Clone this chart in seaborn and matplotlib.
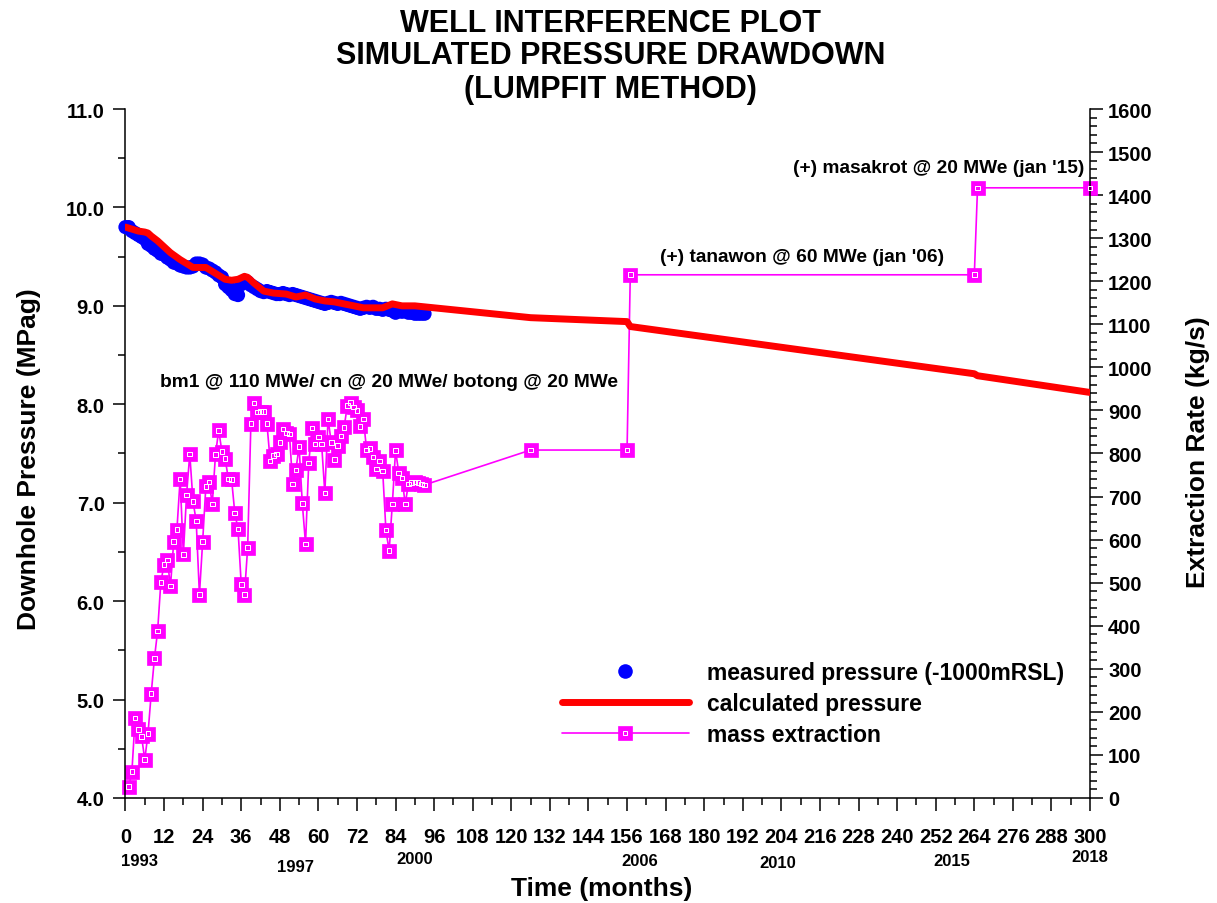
import matplotlib
matplotlib.use("Agg")
import matplotlib.pyplot as plt
import seaborn as sns
import numpy as np
import pandas as pd
from matplotlib.ticker import MultipleLocator, FormatStrFormatter
from matplotlib.lines import Line2D
from matplotlib.legend_handler import HandlerTuple
import matplotlib.transforms as mtransforms

# ---------------- data ----------------
meas_month = list(range(0, 87)) + [88, 89, 90, 91, 92, 93]
meas_press = [9.80, 9.80, 9.76, 9.74, 9.72, 9.70, 9.68, 9.63, 9.61, 9.58,
              9.56, 9.53, 9.52, 9.49, 9.47, 9.44, 9.43, 9.41, 9.40, 9.39,
              9.39, 9.40, 9.43, 9.43, 9.42, 9.39, 9.38, 9.36, 9.34, 9.31,
              9.29, 9.22, 9.19, 9.16, 9.12, 9.11, 9.22, 9.25, 9.24, 9.21,
              9.19, 9.17, 9.15, 9.14, 9.15, 9.14, 9.13, 9.12, 9.12, 9.13,
              9.12, 9.11, 9.12, 9.11, 9.10, 9.09, 9.08, 9.07, 9.06, 9.05,
              9.04, 9.03, 9.02, 9.03, 9.04, 9.03, 9.02, 9.03, 9.02, 9.01,
              9.00, 8.99, 8.98, 8.97, 8.98, 8.99, 8.98, 8.99, 8.97, 8.97,
              8.96, 8.97, 8.96, 8.95, 8.93, 8.95, 8.94,
              8.93, 8.93, 8.92, 8.92, 8.92, 8.92]

calc_month = [0, 2, 4, 6, 7, 8, 10, 12, 14, 17, 19, 21, 23, 25, 27, 29, 31, 33,
              35, 37, 38, 40, 43, 46, 50, 53, 56, 59, 62, 65, 68, 71, 74, 80,
              83, 86, 90, 96, 126, 156, 157, 264, 265, 300]
calc_press = [9.80, 9.78, 9.76, 9.75, 9.74, 9.71, 9.66, 9.60, 9.54, 9.47,
              9.43, 9.39, 9.39, 9.39, 9.35, 9.31, 9.27, 9.26, 9.27, 9.30,
              9.29, 9.23, 9.15, 9.13, 9.12, 9.09, 9.11, 9.07, 9.05, 9.04,
              9.02, 9.00, 8.98, 8.98, 9.02, 9.00, 9.00, 8.98, 8.88, 8.84,
              8.79, 8.31, 8.29, 8.12]

ext_month = list(range(1, 94)) + [126, 156, 157, 264, 265, 300]
ext_rate = [26, 61, 186, 159, 143, 89, 149, 242, 324, 388,
            501, 542, 553, 492, 595, 623, 741, 566, 704, 799,
            689, 643, 472, 595, 724, 734, 683, 798, 854, 804,
            788, 741, 740, 662, 625, 496, 472, 581, 869, 917,
            896, 897, 897, 869, 783, 795, 799, 826, 857, 848,
            845, 729, 762, 816, 684, 590, 778, 859, 822, 838,
            822, 708, 880, 826, 786, 818, 841, 861, 911, 918,
            908, 900, 863, 880, 808, 812, 792, 764, 783, 759,
            622, 574, 683, 807, 755, 743, 683, 729, 732, 734,
            732, 729, 727,
            808, 808, 1215, 1215, 1417, 1417]

xtick_values = list(range(0, 301, 12))
year_labels = ["1993", "1997", "2000", "2006", "2010", "2015", "2018"]
year_months = [4.3, 53, 90, 160, 203, 257, 300]

title_lines = ["WELL INTERFERENCE PLOT", "SIMULATED PRESSURE DRAWDOWN", "(LUMPFIT METHOD)"]

meas_df = pd.DataFrame({"month": meas_month, "pressure": meas_press})
calc_df = pd.DataFrame({"month": calc_month, "pressure": calc_press})
ext_df = pd.DataFrame({"month": ext_month, "rate": ext_rate})

# ---------------- style ----------------
sns.set_theme(style="ticks")
plt.rcParams["font.family"] = ["Liberation Sans", "DejaVu Sans"]
plt.rcParams["font.weight"] = "bold"
plt.rcParams["axes.labelweight"] = "bold"
for k in ["text.color", "axes.labelcolor", "xtick.color", "ytick.color", "axes.edgecolor"]:
    plt.rcParams[k] = "black"

BLUE = "#0000ff"
RED = "#ff0000"
MAG = "#ff00ff"

fig = plt.figure(figsize=(12.17, 9.04), dpi=100)
ax = fig.add_axes([0.1031, 0.1162, 0.7926, 0.7621])
ax2 = ax.twinx()

# measured pressure
sns.scatterplot(data=meas_df, x="month", y="pressure", ax=ax, color=BLUE,
                s=105, edgecolor="none", linewidth=0, legend=False,
                clip_on=False, zorder=3)
# calculated pressure
sns.lineplot(data=calc_df, x="month", y="pressure", ax=ax, color=RED,
             lw=5, estimator=None, sort=False, legend=False, zorder=4,
             solid_capstyle="round", solid_joinstyle="round")

# mass extraction
sns.lineplot(data=ext_df, x="month", y="rate", ax=ax2, color=MAG, lw=1.2,
             marker="s", markersize=9.5, markerfacecolor=MAG,
             markeredgecolor=MAG, markeredgewidth=0.5,
             estimator=None, sort=False, legend=False, clip_on=False)
sns.scatterplot(data=ext_df, x="month", y="rate", ax=ax2, marker="s",
                s=11, facecolor="none", edgecolor="white", linewidth=0.7,
                legend=False, clip_on=False, zorder=5)

# ---------------- axes ----------------
ax.set_xlim(0, 300)
ax.set_ylim(4.0, 11.0)
ax2.set_ylim(0, 1600)
ax.set_xticks(xtick_values)
ax.xaxis.set_minor_locator(MultipleLocator(6))
ax.yaxis.set_major_locator(MultipleLocator(1.0))
ax.yaxis.set_minor_locator(MultipleLocator(0.5))
ax.yaxis.set_major_formatter(FormatStrFormatter("%.1f"))
ax2.yaxis.set_major_locator(MultipleLocator(100))
ax2.yaxis.set_minor_locator(MultipleLocator(20))

for a in (ax, ax2):
    a.spines["top"].set_visible(False)
    for s in a.spines.values():
        s.set_linewidth(1.1)
        s.set_color("black")
ax.spines["right"].set_visible(False)
ax2.spines["left"].set_visible(False)
ax2.spines["bottom"].set_visible(False)

TL = 14.5
ax.tick_params(axis="x", which="major", length=9, width=1.1, pad=12, labelsize=TL)
ax.tick_params(axis="x", which="minor", length=5, width=1.1)
ax.tick_params(axis="y", which="major", length=9, width=1.1, pad=6, labelsize=TL)
ax.tick_params(axis="y", which="minor", length=5, width=1.1)
ax2.tick_params(axis="y", which="major", length=9, width=1.1, pad=4, labelsize=TL)
ax2.tick_params(axis="y", which="minor", length=5, width=1.1)
for lab in ax.get_xticklabels() + ax.get_yticklabels() + ax2.get_yticklabels():
    lab.set_fontweight("bold")

ax.set_xlabel("Time (months)", fontsize=19, fontweight="bold", va="center")
ax.xaxis.set_label_coords(0.494, -0.131)
ax.set_ylabel("Downhole Pressure (MPag)", fontsize=19, fontweight="bold", va="center")
ax.yaxis.set_label_coords(-0.100, 0.493)
ax2.set_ylabel("Extraction Rate (kg/s)", fontsize=19, fontweight="bold", va="center")
ax2.yaxis.set_label_coords(1.112, 0.503)

# year labels under the month ticks
trans = mtransforms.blended_transform_factory(ax.transData, ax.transAxes)
year_y = [-0.0915, -0.1, -0.0886, -0.0915, -0.0944, -0.0915, -0.0857]
for yr, m, yy in zip(year_labels, year_months, year_y):
    ax.text(m, yy, yr, transform=trans, ha="center", va="center",
            fontsize=12, fontweight="bold", clip_on=False)

# annotations
ANN = 13.8
ax.text(10.7, 8.23, "bm1 @ 110 MWe/ cn @ 20 MWe/ botong @ 20 MWe",
        ha="left", va="center", fontsize=ANN, fontweight="bold")
ax.text(210.5, 9.50, "(+) tanawon @ 60 MWe (jan '06)",
        ha="center", va="center", fontsize=ANN, fontweight="bold")
ax.text(253.0, 10.41, "(+) masakrot @ 20 MWe (jan '15)",
        ha="center", va="center", fontsize=ANN, fontweight="bold")

# title
for txt, yy in zip(title_lines, [0.9735, 0.938, 0.9005]):
    fig.text(0.5015, yy, txt, ha="center", va="center", fontsize=22,
             fontweight="bold")

# legend
h_meas = Line2D([], [], ls="none", marker="o", ms=10.5, color=BLUE, mec="none")
h_calc = Line2D([], [], color=RED, lw=5, solid_capstyle="round")
h_ext1 = Line2D([], [], color=MAG, lw=1.2, marker="s", ms=9.5, mfc=MAG, mec=MAG, mew=0.5)
h_ext2 = Line2D([], [], ls="none", marker="s", ms=3.3, mfc="none", mec="white", mew=0.7)
leg = ax.legend([h_meas, h_calc, (h_ext1, h_ext2)],
                ["measured pressure (-1000mRSL)", "calculated pressure", "mass extraction"],
                handler_map={tuple: HandlerTuple(ndivide=1)},
                loc="upper left", bbox_to_anchor=(0.4523, 0.199),
                frameon=False, borderpad=0, borderaxespad=0,
                handlelength=5.55, handletextpad=0.8, labelspacing=0.36,
                prop={"size": 16.5, "weight": "bold"})
ax.set_zorder(ax2.get_zorder() + 1)
ax.patch.set_visible(False)

fig.savefig("out.png", dpi=100)
